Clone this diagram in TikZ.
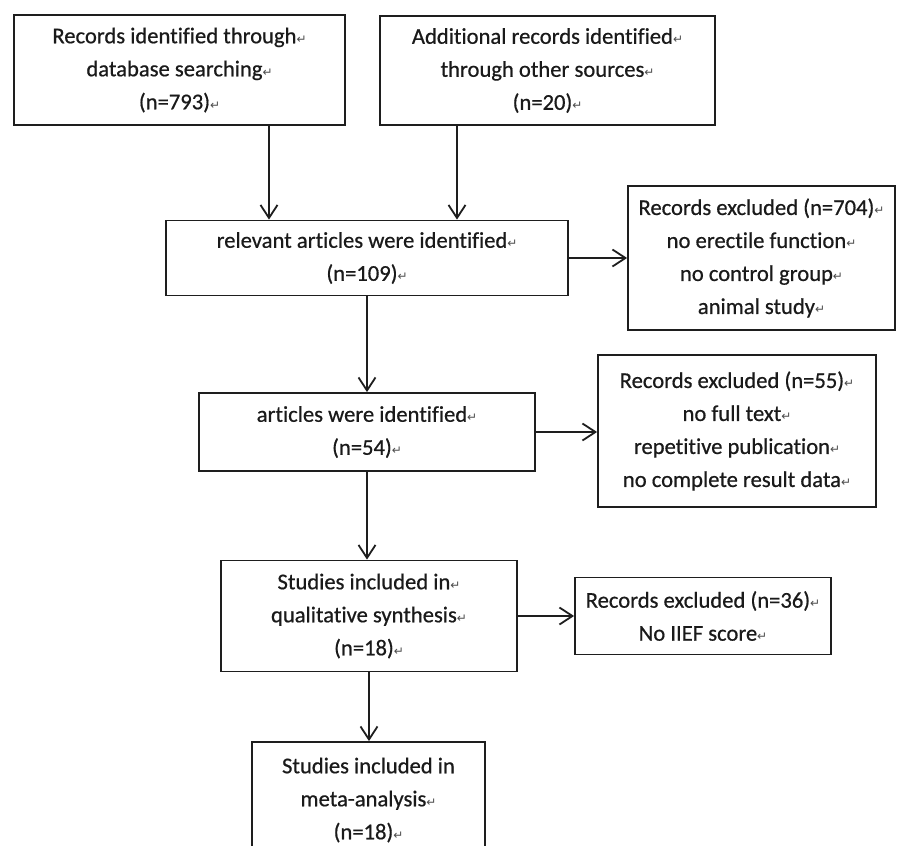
\documentclass[tikz,border=0pt]{standalone}
\usepackage{fontspec}
\setmainfont{Carlito}[Ligatures={NoCommon,NoContextual}, FakeBold=0.6]
\newfontfamily\arrowfont{DejaVu Sans}
\usetikzlibrary{arrows.meta}
\definecolor{linec}{HTML}{1E1E1E}
\definecolor{txtc}{HTML}{1A1A1A}
\newcommand{\retmark}{{\arrowfont\fontsize{12}{12}\selectfont\textcolor{black!70}{↵}}}
\begin{document}
\begin{tikzpicture}[x=1pt,y=1pt,
  box/.style={draw=linec, line width=1.8pt, align=center, inner sep=0pt,
    font=\fontsize{22.6pt}{33pt}\selectfont, text=txtc},
  arr/.style={draw=linec, line width=1.8pt,
    -{Straight Barb[length=13pt,width=17pt,line width=1.8pt]}}]
\useasboundingbox (0,0) rectangle (897,-846);
\clip (0,0) rectangle (897,-846);
\fill[white] (0,0) rectangle (897,-846);

\node[box, minimum width=331pt, minimum height=110pt] (b1) at (179.5,-70)
  {Records identified through\retmark\\database searching\retmark\\(n=793)\retmark};
\node[box, minimum width=335pt, minimum height=109pt] (b2) at (547.5,-70.5)
  {Additional records identified\retmark\\through other sources\retmark\\(n=20)\retmark};
\node[box, minimum width=402pt, minimum height=75pt] (b3) at (367,-258)
  {relevant articles were identified\retmark\\(n=109)\retmark};
\node[box, minimum width=267pt, minimum height=144pt] (b4) at (761.5,-258)
  {Records excluded (n=704)\retmark\\no erectile function\retmark\\no control group\retmark\\animal study\retmark};
\node[box, minimum width=336pt, minimum height=78pt] (b6) at (367,-432)
  {articles were identified\retmark\\(n=54)\retmark};
\node[box, minimum width=278pt, minimum height=152pt] (b5) at (737,-431)
  {Records excluded (n=55)\retmark\\no full text\retmark\\repetitive publication\retmark\\no complete result data\retmark};
\node[box, minimum width=296pt, minimum height=111pt] (b7) at (369,-616)
  {Studies included in\retmark\\qualitative synthesis\retmark\\(n=18)\retmark};
\node[box, minimum width=256pt, minimum height=77pt] (b8) at (703,-616)
  {Records excluded (n=36)\retmark\\No IIEF score\retmark};
\node[box, minimum width=233pt, minimum height=116pt] (b9) at (368.5,-800)
  {Studies included in\\meta-analysis\retmark\\(n=18)\retmark};

\coordinate (xa) at (269,0);
\coordinate (xb) at (457,0);
\draw[arr] (b1.south -| xa) -- (b3.north -| xa);
\draw[arr] (b2.south -| xb) -- (b3.north -| xb);
\draw[arr] (b3.east) -- (b3.east -| b4.west);
\draw[arr] (b3.south) -- (b6.north);
\draw[arr] (b6.east) -- (b6.east -| b5.west);
\draw[arr] (b6.south) -- (b6.south |- b7.north);
\draw[arr] (b7.east) -- (b7.east -| b8.west);
\draw[arr] (b7.south) -- (b7.south |- b9.north);
\end{tikzpicture}
\end{document}
